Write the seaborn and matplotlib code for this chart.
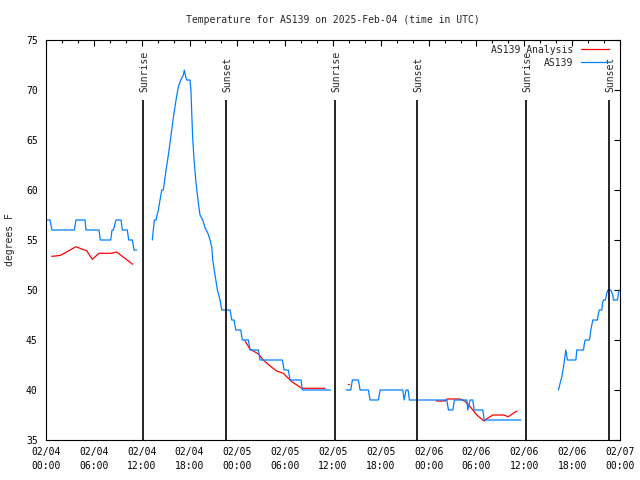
import numpy as np
import pandas as pd
import seaborn as sns
import matplotlib
matplotlib.use("Agg")
import matplotlib.pyplot as plt

# hours since 02/04 00:00 UTC and temperature (F), one array pair per unbroken piece
obs_h1 = [0, 0.5, 0.75, 3.55, 3.76, 4.89, 5.02, 6.65, 6.81, 8.12, 8.28, 8.45, 8.78, 9.41,
          9.58, 10.2, 10.37, 10.83, 11.04, 11.38]
obs_f1 = [57, 57, 56, 56, 57, 57, 56, 56, 55, 55, 56, 56, 57, 57, 56, 56, 55, 55, 54, 54]

obs_h2 = [13.34, 13.46, 13.59, 13.8, 14.09, 14.52, 14.72, 15.06, 15.35, 15.65, 15.97, 16.31,
          16.6, 16.9, 17.23, 17.35, 17.53, 17.65, 18.07, 18.19, 18.28, 18.4, 18.57, 18.82,
          19.11, 19.32, 19.66, 19.95, 20.29, 20.58, 20.79, 20.92, 21.1, 21.3, 21.5, 21.83,
          22.05, 23.09, 23.3, 23.59, 23.8, 24.43, 24.63, 25.38, 25.6, 26.64, 26.85, 29.65,
          29.86, 30.4, 30.61, 31.99, 32.16, 35.7]
obs_f2 = [55, 56, 57, 57, 58, 60, 60, 62, 63.5, 65.3, 67.2, 69, 70.3, 71, 71.5, 72, 71.3, 71,
          71, 69.8, 67.7, 65.2, 63, 60.7, 58.7, 57.5, 57, 56.2, 55.7, 55, 54.3, 53, 52, 51, 50,
          49, 48, 48, 47, 47, 46, 46, 45, 45, 44, 44, 43, 43, 42, 42, 41, 41, 40, 40]

obs_h3 = [37.64, 38.23, 38.43, 39.18, 39.4, 40.44, 40.65, 41.69, 41.91, 44.76, 44.92, 45.17,
          45.42, 45.58, 50.28, 50.48, 51.03, 51.23, 52.79, 52.91, 53.2, 53.54, 53.7, 54.79,
          54.96, 59.56]
obs_f3 = [40, 40, 41, 41, 40, 40, 39, 39, 40, 40, 39, 40, 40, 39, 39, 38, 38, 39, 39, 38, 39,
          39, 38, 38, 37, 37]

obs_h4 = [64.28, 64.49, 64.7, 64.91, 65.12, 65.2, 65.41, 66.46, 66.59, 67.42, 67.54, 67.63,
          68.17, 68.34, 68.59, 69.17, 69.3, 69.42, 69.72, 69.8, 69.93, 70.18, 70.35, 70.47,
          70.85, 71.1, 71.18, 71.68, 71.81, 71.93]
obs_f4 = [40, 40.7, 41.3, 42.3, 43.5, 44, 43, 43, 44, 44, 44.7, 45, 45, 46, 47, 47, 47.7, 48,
          48, 48.7, 49, 49, 49.7, 50, 50, 49.5, 49, 49, 49.7, 50]

ana_h1 = [0.71, 1.21, 1.84, 3.76, 4.48, 5.1, 5.81, 6.65, 8.24, 8.87, 10.87]
ana_f1 = [53.37, 53.4, 53.47, 54.33, 54.1, 53.93, 53.07, 53.67, 53.67, 53.8, 52.57]

ana_h2 = [24.97, 25.6, 26.01, 26.64, 27.26, 28.1, 28.94, 29.77, 30.2, 30.83, 31.46, 32.08, 35.01]
ana_f2 = [44.9, 44.07, 43.9, 43.6, 43.0, 42.4, 41.9, 41.67, 41.33, 40.83, 40.5, 40.17, 40.17]

ana_h3 = [37.9, 38.0]
ana_f3 = [40.55, 40.55]

ana_h4 = [48.93, 50.1, 50.3, 51.94, 52.57, 53.2, 54.04, 54.67, 54.96, 55.29, 56.05, 57.38,
          58.0, 58.43, 59.06]
ana_f4 = [38.9, 38.9, 39.1, 39.1, 38.87, 38.33, 37.5, 37.07, 36.9, 37.13, 37.5, 37.5, 37.33,
          37.57, 37.9]

sunrise_h = [12.17, 36.25, 60.21]
sunset_h = [22.58, 46.54, 70.62]

tick_h = list(range(0, 73, 6))
tick_labels = ["02/04\n00:00", "02/04\n06:00", "02/04\n12:00", "02/04\n18:00",
               "02/05\n00:00", "02/05\n06:00", "02/05\n12:00", "02/05\n18:00",
               "02/06\n00:00", "02/06\n06:00", "02/06\n12:00", "02/06\n18:00",
               "02/07\n00:00"]

sns.set_style("white")
plt.rcParams["font.family"] = ["DejaVu Sans Mono"]
plt.rcParams["font.size"] = 7

fig = plt.figure(figsize=(6.4, 4.8), dpi=100)
ax = fig.add_axes([46 / 640, 40 / 480, 574 / 640, 400 / 480])

red = "#ff0000"
blue = "#0080ff"

ana = [(ana_h1, ana_f1), (ana_h2, ana_f2), (ana_h3, ana_f3), (ana_h4, ana_f4)]
obs = [(obs_h1, obs_f1), (obs_h2, obs_f2), (obs_h3, obs_f3), (obs_h4, obs_f4)]

for i, (h, f) in enumerate(ana):
    sns.lineplot(x=h, y=f, ax=ax, color=red, lw=0.9, estimator=None, sort=False,
                 label="AS139 Analysis" if i == 0 else None)
for i, (h, f) in enumerate(obs):
    sns.lineplot(x=h, y=f, ax=ax, color=blue, lw=0.9, estimator=None, sort=False,
                 label="AS139" if i == 0 else None)

# sunrise / sunset markers
for name, hours in (("Sunrise", sunrise_h), ("Sunset", sunset_h)):
    ax.vlines(hours, 35, 69, color="black", lw=1.2)
    for h in hours:
        ax.text(h + 0.2, 69.8, name, rotation=90, ha="center", va="bottom", fontsize=7)

ax.set_xlim(0, 72)
ax.set_ylim(35, 75)
ax.set_xticks(tick_h)
ax.set_xticklabels(tick_labels, linespacing=1.55)
ax.set_xticks(np.arange(0, 73, 2), minor=True)
ax.set_yticks(range(35, 76, 5))
ax.tick_params(axis="both", which="both", direction="in", top=True, right=True,
               width=0.8, colors="black", labelsize=7)
ax.tick_params(axis="both", which="major", length=4.5)
ax.tick_params(axis="x", which="minor", length=2.5)
ax.tick_params(axis="x", which="major", pad=5)
ax.tick_params(axis="y", which="major", pad=6)
for s in ax.spines.values():
    s.set_color("black")
    s.set_linewidth(0.8)

ax.set_xlabel("")
ax.set_ylabel("degrees F", fontsize=7)
ax.yaxis.set_label_coords(-31 / 574, 0.5)
ax.set_title("Temperature for AS139 on 2025-Feb-04 (time in UTC)", fontsize=7, pad=12)

ax.legend(loc="upper right", bbox_to_anchor=(1 - 6 / 574, 1), frameon=False,
          markerfirst=False, fontsize=7, handlelength=2.9, handletextpad=0.8,
          borderaxespad=0.1, borderpad=0.4, labelspacing=0.3)

fig.savefig("out.png", dpi=100)
